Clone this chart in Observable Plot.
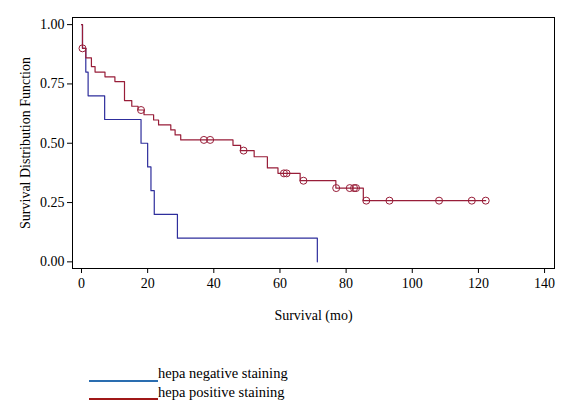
<!DOCTYPE html>
<html>
<head>
<meta charset="utf-8">
<script src="https://cdn.jsdelivr.net/npm/d3@7"></script>
<script src="https://cdn.jsdelivr.net/npm/@observablehq/plot@0.6"></script>
<style>
  body { margin: 0; background: white; }
  #chart { width: 571px; height: 330px; }
  #legend { position: relative; width: 571px; height: 84px; font-family: "Liberation Serif", serif; font-size: 14.5px; color: black; }
  .lline { position: absolute; left: 89px; width: 69px; height: 2px; }
  .ltext { position: absolute; left: 158px; line-height: 16px; white-space: nowrap; }
</style>
</head>
<body>
<div id="chart"></div>
<div id="legend"></div>
<script>
// Negative staining group: step times (months) and survival after each step
const negTimes = [0, 0.3, 1.3, 2, 7, 18, 20, 21, 22, 29, 71.3];
const negSurv  = [1, 0.9, 0.8, 0.7, 0.6, 0.5, 0.4, 0.3, 0.2, 0.1, 0];

// Positive staining group
const posTimes = [0, 0.3, 1.3, 3, 4.1, 7.1, 10.1, 13, 15.2, 17.1, 18.9, 21.8, 23.3, 27, 28.3, 30, 45.8, 48.1, 52.2, 56.2, 59.4, 66.1, 76.9, 85.2, 122.2];
const posSurv  = [1, 0.90, 0.86, 0.823, 0.80, 0.78, 0.76, 0.68, 0.656, 0.64, 0.62, 0.598, 0.577, 0.556, 0.535, 0.514, 0.491, 0.469, 0.443, 0.396, 0.373, 0.342, 0.311, 0.258, 0.258];
const posCensor = [0.3, 18, 37, 38.9, 49, 61.2, 62, 67.1, 77, 81.1, 82.4, 83, 86.1, 93.1, 108.1, 118, 122.2];

const xTicks = [0, 20, 40, 60, 80, 100, 120, 140];
const yTicks = [0, 0.25, 0.5, 0.75, 1];

const seriesNames = ["hepa negative staining", "hepa positive staining"];
const curveColors = ["#2e2e9c", "#981d38"];
const legendColors = ["#2a6db0", "#a01818"];

const negData = negTimes.map((t, i) => ({t, s: negSurv[i]}));
const posData = posTimes.map((t, i) => ({t, s: posSurv[i]}));
function survAt(c) {
  let s = posSurv[0];
  for (let i = 0; i < posTimes.length; i++) if (posTimes[i] <= c) s = posSurv[i];
  return s;
}
const censorData = posCensor.map(c => ({t: c, s: survAt(c)}));

const chart = Plot.plot({
  width: 571,
  height: 330,
  marginLeft: 72,
  marginRight: 17,
  marginTop: 17,
  marginBottom: 62,
  style: {fontFamily: "'Liberation Serif', serif", fontSize: "14px", color: "black", background: "white"},
  x: {domain: [-2.72, 143]},
  y: {domain: [-0.028, 1.03]},
  marks: [
    Plot.frame({stroke: "black"}),
    Plot.axisX({ticks: xTicks, tickSize: 5, tickPadding: 5, label: "Survival (mo)", labelAnchor: "center", labelOffset: 51, labelArrow: "none", fontSize: 14}),
    Plot.axisY({ticks: yTicks, tickSize: 5, tickPadding: 3, tickFormat: d => d.toFixed(2), label: "Survival Distribution Function", labelAnchor: "center", labelOffset: 52, labelArrow: "none", fontSize: 14}),
    Plot.line(negData, {x: "t", y: "s", curve: "step-after", stroke: curveColors[0], strokeWidth: 1.2}),
    Plot.line(posData, {x: "t", y: "s", curve: "step-after", stroke: curveColors[1], strokeWidth: 1.2}),
    Plot.dot(censorData, {x: "t", y: "s", r: 3.5, stroke: curveColors[1], fill: "none", strokeWidth: 1})
  ]
});
document.getElementById("chart").appendChild(chart);

const legend = document.getElementById("legend");
seriesNames.forEach((name, i) => {
  const line = document.createElement("div");
  line.className = "lline";
  line.style.top = (50 + i * 18) + "px";
  line.style.background = legendColors[i];
  legend.appendChild(line);
  const txt = document.createElement("div");
  txt.className = "ltext";
  txt.style.top = (35 + i * 18.5) + "px";
  txt.textContent = name;
  legend.appendChild(txt);
});
</script>
</body>
</html>
